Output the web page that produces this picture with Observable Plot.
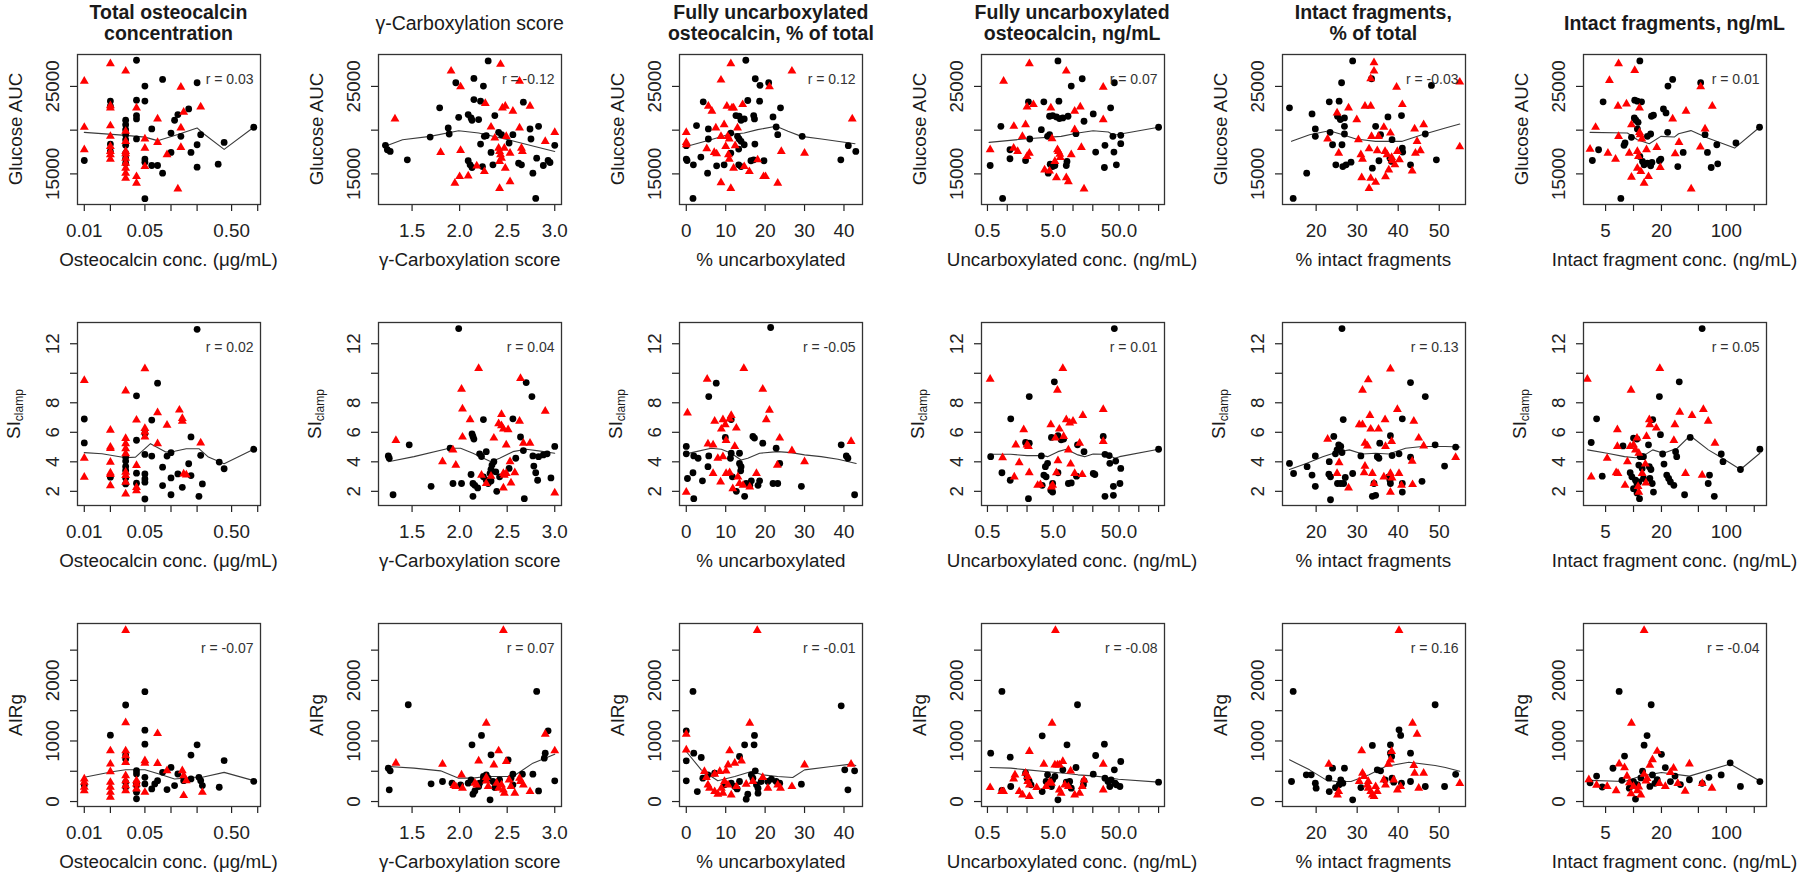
<!DOCTYPE html>
<html><head><meta charset="utf-8">
<script src="https://cdn.jsdelivr.net/npm/d3@7"></script>
<script src="https://cdn.jsdelivr.net/npm/@observablehq/plot@0.6"></script>
<style>
body{margin:0;background:#fff;}
#fig{position:relative;width:1800px;height:878px;overflow:hidden;font-family:"Liberation Sans",Arial,sans-serif;color:#1a1a1a;background:#fff;}
.panel{position:absolute;}
.ctitle{position:absolute;font-size:19.5px;text-align:center;line-height:21px;width:320px;white-space:nowrap;}
.xtitle{position:absolute;font-size:18.8px;text-align:center;line-height:22px;width:320px;white-space:nowrap;}
.ytitle{position:absolute;font-size:18.8px;white-space:nowrap;line-height:22px;transform:translate(-50%,-50%) rotate(-90deg);}
.ytitle sub{font-size:12px;vertical-align:-3px;}
</style></head>
<body><div id="fig"></div>
<script>
// ---------- labels ----------
const colTitles = [["Total osteocalcin","concentration"],["γ-Carboxylation score"],["Fully uncarboxylated","osteocalcin, % of total"],["Fully uncarboxylated","osteocalcin, ng/mL"],["Intact fragments,","% of total"],["Intact fragments, ng/mL"]];
const colTitleBold = [true,false,true,true,true,true];
const xTitles = ["Osteocalcin conc. (μg/mL)","γ-Carboxylation score","% uncarboxylated","Uncarboxylated conc. (ng/mL)","% intact fragments","Intact fragment conc. (ng/mL)"];
const yTitleMain = ["Glucose AUC","SI","AIRg"];
const yTitleSub = ["","clamp",""];
const rValues = [["0.03","-0.12","0.12","0.07","-0.03","0.01"],["0.02","0.04","-0.05","0.01","0.13","0.05"],["-0.07","0.07","-0.01","-0.08","0.16","-0.04"]];
// ---------- axes ----------
const xTypes = ["log","linear","linear","log","linear","log"];
const xDomains = [[0.00835,1.077],[1.147,3.071],[-1.72,44.7],[0.406,246],[11.8,56.4],[2.89,271]];
const xTicks = [[0.01,0.02,0.05,0.1,0.2,0.5,1],[1.5,2,2.5,3],[0,10,20,30,40],[0.5,1,2,5,10,20,50,100,200],[20,30,40,50],[5,10,20,50,100,200]];
const xTickLabels = [["0.01","","0.05","","","0.50",""],["1.5","2.0","2.5","3.0"],["0","10","20","30","40"],["0.5","","","5.0","","","50.0","",""],["20","30","40","50"],["5","","20","","100",""]];
const yDomains = [[11500,28650],[1.04,13.44],[-82,2940]];
const yTicks = [[15000,20000,25000],[2,4,6,8,10,12],[0,500,1000,1500,2000,2500]];
const yTickLabels = [["15000","","25000"],["2","4","6","8","","12"],["0","","1000","","2000",""]];

// ---------- data: [x, y] ----------
// Row 1: Glucose AUC
const p11_red = [[0.01,25600],[0.02,27600],[0.03,26760],[0.01,20330],[0.01,17760],[0.02,22800],[0.02,22550],[0.02,20500],[0.02,19300],[0.02,18150],[0.02,17570],[0.02,17190],[0.02,16690],[0.03,19870],[0.03,18720],[0.03,17570],[0.03,17300],[0.03,16800],[0.03,16230],[0.03,15650],[0.03,15080],[0.03,14500],[0.04,22550],[0.04,14700],[0.04,13930],[0.05,19000],[0.05,17950],[0.05,15840],[0.07,21280],[0.07,18600],[0.09,17190],[0.12,13280],[0.13,24920],[0.14,22050],[0.13,20250],[0.13,18030],[0.22,22660]];
const p11_black = [[0.01,16530],[0.02,23320],[0.02,22740],[0.02,18410],[0.02,17570],[0.03,21130],[0.03,20630],[0.03,20060],[0.03,19480],[0.03,18910],[0.03,18260],[0.03,17380],[0.03,16800],[0.03,16230],[0.04,27990],[0.04,23430],[0.04,21670],[0.04,21280],[0.04,19000],[0.05,25040],[0.05,23320],[0.05,16690],[0.05,16340],[0.05,12170],[0.06,20140],[0.06,15960],[0.07,15960],[0.08,15080],[0.08,25800],[0.1,19670],[0.1,17450],[0.11,21130],[0.12,21780],[0.13,19290],[0.16,22430],[0.17,17450],[0.2,25420],[0.2,15770],[0.2,18330],[0.22,19480],[0.35,16110],[0.41,18600],[0.9,20330]];
const p11_fit = [[0.01,19750],[0.03,19400],[0.05,19200],[0.07,18800],[0.12,19500],[0.2,20250],[0.23,19700],[0.41,17800],[0.9,20330]];

const p12_red = [[1.32,21280],[1.91,26760],[2.01,24960],[1.8,17450],[2.01,17680],[1.95,13930],[2.0,14700],[2.09,14770],[2.18,15920],[2.26,15270],[2.27,23050],[2.33,20360],[2.37,19100],[2.41,17950],[2.42,17570],[2.43,17190],[2.44,16800],[2.42,16420],[2.43,27530],[2.42,13350],[2.45,22550],[2.48,22740],[2.47,17950],[2.48,15650],[2.49,19290],[2.53,17380],[2.53,14120],[2.56,22170],[2.63,25610],[2.63,20250],[2.65,17950],[2.66,17570],[2.74,22740],[2.9,18720],[3.0,19750]];
const p12_black = [[1.22,18260],[1.24,17760],[1.27,17570],[1.45,16610],[1.69,19210],[1.79,22550],[1.88,20250],[1.89,19560],[1.96,25420],[1.99,21470],[2.09,21780],[2.12,21400],[2.13,21130],[2.15,25920],[2.15,23500],[2.2,21210],[2.22,23310],[2.25,25040],[2.3,27910],[2.09,16500],[2.11,16040],[2.13,15730],[2.22,18410],[2.24,15840],[2.26,19290],[2.28,19370],[2.33,17450],[2.35,16040],[2.37,21670],[2.41,19750],[2.44,19480],[2.52,18530],[2.56,19480],[2.62,16230],[2.65,16040],[2.67,23200],[2.74,20130],[2.75,18990],[2.77,15080],[2.8,12200],[2.83,20440],[2.81,16800],[2.88,15960],[2.93,16530],[2.95,16300],[3.0,18260]];
const p12_fit = [[1.21,18140],[1.4,18900],[1.69,19290],[1.99,19940],[2.2,19670],[2.51,18900],[2.79,18140],[3.0,17570]];

const p13_red = [[11.3,27600],[8.8,25730],[26.8,26760],[21.1,24960],[0,19750],[0,18600],[0,18330],[5.6,22740],[6.5,22170],[10.3,22740],[11.6,22550],[12.0,22550],[14.3,22930],[7.5,20250],[9.6,20630],[13.0,20250],[8.8,19290],[10.5,19290],[10.9,19000],[5.2,17880],[7.1,17450],[7.7,17300],[10,18140],[10.7,17190],[10.9,16690],[12.4,18220],[14.7,15840],[16.0,15270],[12,15650],[8.8,14000],[11.3,13350],[18.1,16610],[19.6,14700],[20.1,14700],[23.2,13930],[24.1,17570],[30.0,17380],[42.1,21280]];
const p13_black = [[15.1,27990],[17.5,25880],[18.7,25120],[20.9,25420],[4.3,23240],[15.6,23390],[18.6,23310],[23.9,22550],[12.6,21670],[13.4,21600],[13.9,21130],[14.7,21280],[17.1,21670],[17.3,21280],[22.0,21510],[2.6,20520],[5.6,20140],[5.6,18990],[22.8,20360],[23.2,19480],[29.4,19290],[11.3,19670],[13,19290],[13.4,19000],[13.9,18720],[14.7,18330],[17.4,18410],[0,18220],[0,16690],[0.2,16530],[3.7,16920],[1.8,16040],[7.7,15920],[9.6,16040],[5.4,15080],[11.3,17380],[13.3,17840],[13.3,16040],[13.9,15840],[16.4,16500],[17.1,16610],[19.7,16500],[1.7,12200],[39.2,16610],[41.1,18220],[43,17570]];
const p13_fit = [[0,18140],[6.2,18910],[10.5,19480],[14.7,19670],[18.1,20060],[22.8,20440],[25.8,19870],[29.2,19290],[34.3,18990],[42.8,18450]];

const p14_red = [[2.17,27600],[7.9,26760],[0.88,25610],[28.8,24920],[2.0,22660],[2.5,22930],[4.6,22550],[12.9,22660],[10.6,22170],[1.26,20440],[1.9,20630],[1.7,19290],[4.8,19020],[10.6,20060],[28.8,21210],[0.55,17760],[1.25,17950],[1.44,17570],[2.17,17380],[2.0,17000],[3.7,15460],[4.4,15350],[5.8,17760],[6.0,17570],[6.3,17260],[6.4,16880],[5.3,16420],[5.6,14580],[7.9,14580],[8.5,14120],[9.4,17190],[13.4,18030],[14.7,13280]];
const p14_black = [[5.9,27910],[13.8,25880],[9.4,25040],[42.5,25420],[2.1,23240],[3.6,23240],[6.1,23310],[4.4,21590],[4.9,21670],[5.6,21510],[6.2,21320],[7.0,21400],[8.4,21590],[37.3,22550],[20.3,21860],[14.7,21020],[0.8,20440],[3.3,20060],[2.2,18990],[4.1,19290],[4.4,19480],[11.1,19600],[40.4,19290],[53.2,19410],[53.2,18450],[1.1,17760],[1.1,16730],[1.9,16530],[0.55,15960],[4.5,16110],[4.9,15840],[5.3,15960],[4.2,15080],[8.1,16420],[7.9,15960],[22.1,17490],[30.6,18260],[41.9,17490],[30.0,15730],[45.6,16040],[0.85,12200],[200,20330]];
const p14_fit = [[0.53,18600],[2.0,19020],[6.6,19290],[11.9,19670],[20.2,19940],[34.5,19790],[41.5,19410],[200,20330]];

const p15_red = [[34.1,27720],[34.1,26760],[33.3,25880],[39.6,24920],[27.9,22550],[31.9,22740],[33.3,22740],[41,22930],[25.1,21970],[29.9,21210],[36.5,20330],[38.1,19670],[44,20140],[46.2,20630],[22.8,18990],[25.5,17380],[30.3,18910],[33.5,19290],[30.9,17190],[31.3,16690],[32.9,17870],[34.9,17650],[35.2,19290],[36.8,17570],[37.3,17190],[38.4,16880],[38.5,16500],[39.8,17570],[40.3,16610],[44.6,18720],[44.2,17380],[45.4,17650],[43.4,15350],[31.1,14580],[32.9,13350],[34.5,14040],[33.3,14500],[36.9,14690],[37.7,15460],[39.2,16040],[55,25500],[55,18100]];
const p15_black = [[28.9,27910],[26.2,25420],[33.5,25880],[48.1,25110],[13.5,22550],[19,21860],[23.2,23240],[25.6,23310],[25.2,21590],[25.9,21210],[26.9,21400],[26.9,20440],[19.8,20140],[19.8,19290],[23.4,19750],[26.9,19560],[34.5,20440],[37.5,21510],[40.8,21670],[35.7,19480],[38.5,18910],[24,18330],[26.3,18330],[41,17950],[46.6,19560],[24.8,16040],[26.5,15840],[27.3,16040],[28.5,16340],[33.7,15650],[35.3,16500],[38.0,16800],[38.4,16420],[41.1,17490],[43,16040],[49.3,16610],[17.7,15080],[14.4,12200]];
const p15_fit = [[14,18720],[18.4,19480],[23.2,19940],[26.5,19480],[29.7,18990],[34.5,18720],[41,18720],[45.8,19480],[51.5,20250],[55,20700]];

const p16_red = [[6.9,27600],[10.3,26840],[5.5,25690],[6.8,22740],[8.4,23010],[11.6,22550],[36.8,22170],[70.6,22740],[52.9,24960],[26.4,21280],[3.9,20330],[9.5,20630],[11.6,19750],[11.8,19480],[6.9,19290],[59,20140],[3.4,17830],[5.3,17380],[6.4,16690],[9.0,17380],[11.0,17570],[11.3,17000],[13.8,17760],[17.8,18030],[28.1,17300],[30.9,18600],[52.5,18070],[9.5,14620],[11,15650],[12,15270],[14.5,14700],[13,13930],[19.4,15730],[41.8,13280],[12.3,19000]];
const p16_black = [[11.7,27910],[4.7,23240],[10.3,23430],[11.0,23310],[12.2,23240],[10.2,21400],[10.6,21130],[11.2,20900],[15.6,21590],[16.4,21710],[21.0,22430],[22.4,21970],[23.5,25040],[26.4,25800],[52.9,25420],[4.2,17760],[3.6,16530],[7.9,18260],[8.1,18530],[9.5,19180],[11.0,20140],[14.1,19290],[15.3,19560],[11.7,17000],[12.5,16420],[13,16040],[14.1,16230],[15.3,15920],[15.8,16300],[19,16500],[19.7,16690],[23.3,19750],[30,15840],[34.3,17450],[59,19480],[62.6,17450],[68.7,15730],[79,18330],[80.8,16150],[127,18530],[228,20330],[7.3,12200]];
const p16_fit = [[3.4,19750],[8.6,19670],[11,18900],[14.8,18450],[19.7,19290],[27.5,19210],[30.6,19590],[41.5,19950],[63,19100],[123,17950],[230,20360]];

// Row 2: SIclamp
const p21_red = [[0.01,9.52],[0.01,4.25],[0.01,2.96],[0.02,6.15],[0.02,5.0],[0.02,4.9],[0.02,3.98],[0.02,3.25],[0.02,3.14],[0.02,2.39],[0.03,8.81],[0.03,5.58],[0.03,5.23],[0.03,4.89],[0.03,4.55],[0.03,3.30],[0.03,3.07],[0.03,2.62],[0.03,1.82],[0.04,6.83],[0.04,3.75],[0.04,2.27],[0.04,2.05],[0.05,10.31],[0.05,6.26],[0.05,6.03],[0.05,5.69],[0.07,7.33],[0.07,5.23],[0.09,6.49],[0.125,7.51],[0.135,6.94],[0.135,6.76],[0.14,3.18],[0.15,3.11],[0.22,5.28]];
const p21_black = [[0.01,6.9],[0.01,5.28],[0.02,2.96],[0.03,4.32],[0.03,4.05],[0.03,3.69],[0.03,3.41],[0.03,2.91],[0.03,2.50],[0.04,8.47],[0.04,5.46],[0.04,3.23],[0.04,2.55],[0.05,5.92],[0.05,4.5],[0.05,3.18],[0.05,2.84],[0.05,2.62],[0.05,1.48],[0.06,6.83],[0.06,4.39],[0.07,9.33],[0.08,3.64],[0.08,2.39],[0.09,4.39],[0.1,4.62],[0.1,2.91],[0.1,1.77],[0.12,3.18],[0.135,2.27],[0.16,3.87],[0.17,5.69],[0.17,3.07],[0.2,12.98],[0.21,1.66],[0.22,4.44],[0.23,2.50],[0.36,3.98],[0.41,3.53],[0.9,4.85]];
const p21_fit = [[0.01,4.62],[0.016,4.55],[0.03,4.28],[0.039,4.32],[0.058,5.23],[0.087,4.67],[0.11,4.71],[0.15,4.89],[0.21,4.89],[0.27,4.32],[0.41,3.87],[0.9,4.85]];

const p22_red = [[1.33,5.45],[1.82,4.01],[1.96,3.78],[1.93,4.81],[2.02,8.92],[2.03,7.59],[2.11,6.86],[2.03,5.68],[2.2,10.33],[2.23,3.1],[2.28,2.53],[2.36,5.61],[2.44,7.21],[2.41,6.59],[2.44,6.45],[2.46,6.22],[2.51,6.18],[2.49,5.15],[2.46,3.21],[2.47,3.1],[2.49,3.21],[2.53,4.01],[2.58,3.26],[2.54,2.57],[2.46,2.23],[2.63,6.75],[2.64,9.65],[2.67,5.27],[2.74,5.27],[2.9,7.43],[3.0,1.89],[2.33,3.03]];
const p22_black = [[1.25,4.4],[1.26,4.24],[1.3,1.77],[1.47,5.15],[1.7,2.34],[1.9,4.92],[1.93,2.53],[2.02,2.53],[1.99,13.03],[2.13,5.9],[2.14,5.72],[2.15,5.54],[2.12,3.14],[2.14,2.53],[2.16,2.41],[2.19,2.23],[2.14,1.66],[2.21,4.54],[2.23,4.36],[2.25,6.86],[2.28,4.69],[2.25,2.98],[2.28,2.75],[2.32,3.21],[2.33,3.49],[2.34,3.78],[2.36,4.01],[2.3,2.53],[2.33,2.7],[2.39,2.0],[2.38,3.32],[2.42,2.98],[2.52,3.55],[2.56,6.91],[2.64,5.68],[2.7,9.37],[2.76,8.42],[2.59,4.24],[2.67,4.76],[2.77,4.4],[2.78,3.71],[2.8,3.26],[2.82,2.75],[2.83,4.35],[2.88,4.47],[2.92,4.54],[2.96,2.91],[3.0,5.04],[2.68,1.5]];
const p22_fit = [[1.25,4.01],[1.52,4.35],[1.89,4.92],[2.01,4.92],[2.14,4.58],[2.33,4.01],[2.42,4.24],[2.56,4.69],[2.7,4.85],[2.83,4.74],[3.0,4.58]];

const p23_red = [[0.3,7.32],[0,1.95],[5.3,9.6],[14.6,10.33],[19.4,8.92],[21.1,7.5],[20.3,6.86],[7.2,6.75],[9.3,6.86],[8.9,6.22],[11.4,7.14],[11,6.91],[9.9,6.52],[12.7,6.29],[5.5,5.22],[6.8,5.15],[10.1,5.45],[12.3,5.04],[8.0,4.24],[9.3,4.35],[6.8,3.21],[8.7,2.64],[10.1,3.21],[11,3.26],[11.8,2.18],[13.1,2.98],[13.5,2.53],[14.4,2.41],[16.1,2.3],[17.8,3.21],[23.7,5.61],[23.1,3.78],[26.8,4.76],[30,4.01],[41.8,5.38]];
const p23_black = [[0,5.04],[0,4.54],[0.3,2.87],[1.9,4.4],[3.0,4.24],[1.9,1.5],[4.1,2.71],[1.7,3.26],[5.7,8.42],[7.6,9.33],[5.5,3.67],[5.7,4.4],[11.4,6.86],[9.9,5.65],[11.4,4.58],[11.2,4.24],[11.7,2.98],[12.7,2.0],[13.5,4.58],[13.5,3.89],[13.9,3.67],[13.8,3.39],[14.8,1.66],[15.2,2.53],[16.1,2.41],[16.5,2.71],[16.9,5.72],[17.3,5.61],[19.4,5.26],[18.2,2.41],[18.6,2.71],[21.4,13.1],[22.8,4.92],[23.7,3.89],[22,2.53],[23.2,2.53],[29.2,2.34],[39.3,5.15],[40.6,4.4],[41,4.24],[42.7,1.77]];
const p23_fit = [[0,4.54],[2.5,4.69],[6.3,4.92],[8.9,4.85],[11.4,4.58],[13.9,4.12],[15.6,4.24],[18.6,4.58],[23.2,4.69],[26.6,4.62],[30,4.47],[34.2,4.35],[38.5,4.17],[43.1,3.89]];

const p24_red = [[0.55,9.6],[0.85,4.28],[1.28,2.98],[1.52,3.94],[1.78,6.18],[1.35,5.15],[2.0,5.15],[2.1,5.04],[2.16,3.26],[2.9,2.41],[3.2,2.46],[4.6,6.52],[4.9,2.41],[4.7,2.3],[5.4,5.61],[5.8,8.85],[5.9,4.08],[5.6,3.26],[6.2,6.22],[7.0,10.33],[7.2,5.72],[7.9,6.86],[8.9,6.63],[10,6.75],[8.5,4.81],[9.2,3.85],[10.6,3.21],[12.6,5.27],[13.8,3.14],[14.1,7.14],[28.8,7.55],[28.8,5.38]];
const p24_black = [[0.56,4.35],[0.83,3.26],[1.11,2.75],[1.13,6.91],[1.9,5.31],[2.0,5.15],[2.16,5.26],[2.1,1.5],[2.16,8.42],[3.3,4.4],[3.6,3.1],[3.8,3.67],[3.9,2.98],[3.4,2.41],[4.7,5.65],[4.9,2.53],[5.2,9.42],[4.1,3.9],[4.6,2.07],[4.9,1.95],[5.9,3.26],[5.9,5.77],[6.6,5.49],[7.2,5.54],[8.5,2.53],[9.4,2.57],[11.3,3.03],[11.7,5.15],[14.7,4.69],[20.3,3.21],[21.5,3.14],[28.8,5.72],[30.6,4.51],[35.5,4.42],[36.3,3.9],[44.6,4.05],[53.2,3.55],[30.6,1.66],[41.1,1.73],[41.1,2.34],[51.7,2.53],[42.5,13.03],[200,4.85]];
const p24_fit = [[0.53,4.51],[1.13,4.51],[2.0,4.42],[3.5,4.42],[4.1,4.35],[5.9,4.69],[7.9,4.85],[11.9,4.47],[15,4.35],[20.2,4.53],[32.5,4.51],[43.5,4.24],[51,4.35],[200,4.85]];

const p25_red = [[22.8,5.54],[25.1,3.21],[27.9,2.23],[25.6,3.94],[31.3,8.85],[32.7,9.56],[30.5,6.52],[31.3,6.52],[33.1,7.14],[31.9,5.26],[32.5,5.08],[33.3,6.22],[35.2,6.22],[31.9,3.71],[31.7,3.26],[33.7,3.21],[34.1,2.53],[36.8,6.86],[36.5,2.98],[38.1,10.29],[36.9,5.04],[38.4,5.38],[38.1,3.21],[38.5,2.91],[38.1,1.95],[39.8,7.55],[40.2,3.21],[40.8,2.41],[43.5,2.46],[43.8,6.75],[43.4,4.05],[45,5.61],[46.2,5.08],[54,4.3]];
const p25_black = [[13.5,3.89],[14.5,3.21],[17.8,3.67],[19,3.1],[19.8,4.4],[19.8,2.34],[23.5,1.43],[23.2,4.01],[23.1,3.16],[23.5,2.98],[24.3,5.72],[25.1,4.81],[25.5,5.15],[26,5.04],[24.7,4.54],[26.3,4.63],[26.6,6.86],[25.2,2.53],[26,2.53],[26.7,2.53],[27.1,2.94],[28.9,3.21],[26.3,13.03],[30.9,4.4],[33.7,1.66],[34.5,1.73],[34.1,2.53],[34.9,4.35],[35.3,4.24],[35.5,5.26],[37.7,2.98],[38,2.75],[38.1,2.53],[38.1,5.77],[38.5,4.42],[40.2,4.54],[41,1.95],[41,6.91],[41,2.53],[43,9.37],[43,4.31],[45.8,2.68],[46.6,8.42],[49,5.15],[51.3,3.71],[54,5.0]];
const p25_fit = [[13.5,3.48],[17.6,3.89],[21.6,4.35],[24.8,4.63],[28.1,4.81],[31.3,4.53],[34.5,4.58],[37.7,4.53],[41.8,4.92],[45.8,5.04],[51.5,5.04],[55,5.0]];

const p26_red = [[3.18,9.6],[3.5,2.98],[5.2,4.24],[6.7,6.18],[6.5,3.26],[6.8,3.21],[8.1,2.41],[6.7,5.04],[8.6,4.01],[9.4,8.85],[9.2,5.04],[10,5.15],[10.9,5.61],[10.5,4.81],[11.4,4.58],[11.2,2.34],[11.4,1.95],[12.4,3.21],[13.4,3.85],[13.6,2.57],[13.8,5.72],[14.8,6.86],[15,6.52],[17.6,6.29],[19.2,10.33],[27.2,5.45],[27.9,6.52],[31.5,7.37],[36.3,3.21],[42.7,7.14],[56.6,7.55],[54.9,3.1],[63.8,6.75],[75.4,5.26]];
const p26_black = [[3.5,5.31],[4.0,6.91],[4.6,3.03],[7.7,5.08],[10,5.61],[10.9,5.54],[9.2,3.26],[9.6,2.98],[10.5,2.75],[10.9,2.53],[11.4,2.64],[10,2.18],[10.9,1.89],[11.6,1.5],[11.8,4.35],[12.4,4.35],[12.8,4.35],[11.4,3.78],[12.4,3.55],[12.8,2.87],[14.5,5.15],[14.8,3.67],[15.4,3.48],[16.1,6.86],[15,2.87],[15.9,2.53],[16.4,1.95],[19,8.42],[19.5,5.84],[20.6,4.53],[21.3,3.85],[22.8,3.1],[23.9,2.87],[25,2.64],[27.2,2.41],[28.4,4.69],[29.2,4.35],[31.1,9.42],[35.5,1.77],[40.8,5.65],[54.9,13.03],[65.9,3.1],[63.8,2.53],[74.2,1.66],[88.2,4.53],[92.1,4.01],[142,3.48],[230,4.85]];
const p26_fit = [[3.2,4.81],[5.2,4.58],[8.0,4.35],[10.5,4.28],[12.4,4.35],[16.1,4.81],[21,4.58],[29.6,4.92],[40.8,5.77],[64,4.81],[91,4.24],[142,3.48],[230,4.58]];

// Row 3: AIRg
const p31_red = [[0.03,2827],[0.03,1304],[0.07,1123],[0.02,838],[0.02,619],[0.02,493],[0.02,318],[0.02,236],[0.02,153],[0.02,71],[0.01,373],[0.01,318],[0.01,236],[0.01,181],[0.03,838],[0.03,756],[0.03,647],[0.03,427],[0.03,345],[0.03,263],[0.03,181],[0.04,345],[0.04,290],[0.04,208],[0.05,674],[0.05,635],[0.05,153],[0.07,630],[0.09,510],[0.135,510],[0.14,427],[0.15,345],[0.14,99],[0.23,153]];
const p31_black = [[0.02,1096],[0.03,1594],[0.05,1814],[0.05,1178],[0.05,948],[0.03,767],[0.03,701],[0.01,274],[0.03,318],[0.03,236],[0.04,510],[0.04,455],[0.04,307],[0.04,263],[0.04,153],[0.04,44],[0.05,400],[0.05,290],[0.06,208],[0.065,290],[0.07,345],[0.08,482],[0.09,197],[0.1,564],[0.11,263],[0.12,455],[0.14,345],[0.17,767],[0.17,373],[0.2,937],[0.21,400],[0.22,345],[0.23,263],[0.36,236],[0.41,674],[0.9,334]];
const p31_fit = [[0.01,400],[0.021,493],[0.03,526],[0.05,526],[0.073,455],[0.11,373],[0.19,400],[0.23,400],[0.41,482],[0.9,345]];

const p32_red = [[1.33,634],[1.82,617],[1.94,264],[1.96,248],[2.02,441],[2.03,220],[2.28,1295],[2.2,672],[2.16,303],[2.18,276],[2.28,397],[2.3,248],[2.41,838],[2.46,2827],[2.36,606],[2.49,661],[2.44,276],[2.46,193],[2.47,138],[2.52,358],[2.54,248],[2.58,138],[2.39,303],[2.41,220],[2.63,386],[2.64,331],[2.67,276],[2.74,165],[2.9,1113],[3.0,838],[2.28,342]];
const p32_black = [[1.25,551],[1.27,507],[1.26,193],[1.46,1598],[1.7,292],[1.82,331],[1.92,303],[2.01,276],[2.13,937],[2.09,303],[2.12,358],[2.14,121],[2.16,176],[2.2,248],[2.21,303],[2.23,1091],[2.25,413],[2.25,358],[2.28,441],[2.3,386],[2.33,771],[2.35,331],[2.32,28],[2.37,231],[2.42,358],[2.51,689],[2.54,386],[2.56,276],[2.56,452],[2.66,452],[2.77,452],[2.81,1818],[2.83,176],[2.93,1168],[2.9,799],[2.89,716],[3.0,342]];
const p32_fit = [[1.25,579],[1.52,551],[1.8,507],[1.99,386],[2.14,386],[2.28,413],[2.42,413],[2.56,413],[2.64,496],[2.77,634],[3.0,782]];

const p33_red = [[18,2827],[16.1,1295],[0,1113],[0,854],[11,838],[4.6,496],[5.1,397],[7.2,452],[8.5,496],[10.1,507],[10.6,606],[12.3,634],[14,672],[5.5,276],[5.9,220],[7.2,165],[8.0,121],[8.9,220],[9.3,138],[11.4,110],[9.7,331],[10.6,276],[12.7,248],[15.2,287],[16.9,331],[19.4,397],[20.7,220],[23.2,276],[23.9,220],[26.8,248],[30,606],[41.8,617]];
const p33_black = [[0,1168],[0,672],[0,342],[1.7,1818],[1.9,799],[3.8,727],[2.8,165],[4.2,386],[5.5,441],[7.2,468],[9.7,276],[11.4,303],[12.3,248],[12.9,209],[13.5,744],[13.5,331],[14.8,937],[15.2,39],[15.6,121],[16.5,441],[16.9,386],[17.2,937],[17.3,1091],[17.5,507],[17.8,276],[18.2,220],[19,331],[18.2,138],[20.7,331],[21.6,369],[22.8,331],[23.7,303],[29.2,287],[39.3,1581],[40.2,523],[41,193],[42.7,507]];
const p33_fit = [[0,826],[3.8,523],[8.0,342],[12.3,413],[16.5,496],[19.4,441],[23.2,413],[27,397],[30,523],[36.8,579],[41.8,617],[43,595]];

const p34_red = [[5.4,2827],[4.8,1295],[2.17,827],[0.55,231],[0.82,165],[0.88,165],[1.25,375],[1.31,441],[1.52,165],[1.71,110],[2.17,83],[1.9,468],[2.05,413],[2.05,331],[2.17,276],[2.8,231],[3.6,617],[3.9,248],[4.4,320],[4.7,303],[5.3,606],[5.8,606],[6.2,606],[7.0,661],[6.2,193],[6.6,138],[7.5,276],[8.5,248],[9.2,507],[10.6,110],[12.6,138],[13.8,248],[14.7,358],[28.8,617],[28.8,193]];
const p34_black = [[0.56,799],[0.83,1818],[0.83,182],[1.11,733],[1.13,248],[1.9,468],[2.0,386],[2.16,331],[2.3,276],[3.4,1085],[3.4,165],[4.1,441],[3.9,331],[4.4,287],[4.7,248],[4.9,358],[5.3,413],[5.9,28],[7.0,523],[7.9,320],[8.5,276],[8.9,331],[8.1,937],[9.4,220],[11.1,562],[11.7,1598],[14.4,276],[14.7,342],[20.3,452],[22.1,760],[30,948],[30.6,386],[34,331],[36.3,248],[38,358],[42.5,523],[43.6,303],[45.6,276],[53.2,661],[51.7,248],[200,320]];
const p34_fit = [[0.55,562],[1.13,551],[2.05,523],[3.7,496],[7.5,468],[11.9,441],[20.2,424],[30.6,402],[49,369],[200,320]];

const p35_red = [[40.2,2827],[43.5,1295],[44.6,1113],[31.1,838],[23.1,617],[25.5,165],[25.2,110],[31.3,468],[31.7,413],[30.5,331],[32.5,276],[32.7,220],[33.3,165],[33.7,110],[34.1,83],[34.5,248],[34.9,165],[32.7,331],[36.5,358],[36.9,276],[37.6,617],[38.1,689],[38.4,827],[38.9,358],[39.8,193],[40.6,248],[43.8,595],[44,468],[45,220],[46.2,468],[55,300]];
const p35_black = [[14,331],[14.4,1818],[17.6,441],[18.8,441],[19.8,303],[20,220],[23.1,386],[24,551],[23.2,165],[24.7,231],[25.6,276],[26,358],[26.5,303],[26.9,551],[28.9,28],[30.9,231],[33.7,926],[34.9,523],[35.7,507],[36.8,358],[38.1,937],[38.1,799],[38.4,744],[38.5,386],[38.9,320],[40.2,1185],[40.6,1091],[40.8,303],[43,799],[43,331],[46.6,248],[49,1598],[51.3,248],[54,450]];
const p35_fit = [[13.5,689],[18.4,523],[22.4,358],[24.8,331],[28.5,331],[32.9,441],[36.9,579],[42.6,650],[49,595],[51.5,562],[55,500]];

const p36_red = [[13,2827],[9.5,1295],[4,270],[3.3,360],[5.2,250],[6.5,180],[7,620],[8,560],[8.5,420],[9,310],[10,250],[11,180],[12,110],[13,450],[14,380],[15,600],[16,690],[18,830],[19,300],[22,250],[25,480],[30,300],[40,620],[55,300],[70,220],[9.4,130],[11.4,240],[13.6,340],[27,550],[36,170]];
const p36_black = [[7,1818],[15.5,1598],[3.4,310],[4,420],[4.6,240],[6,550],[7.5,350],[8,750],[9,220],[10,330],[10.5,40],[11,280],[12,390],[12.5,500],[13,930],[14,1090],[15,250],[16,440],[17,300],[18,360],[20,780],[22,560],[25,330],[28,420],[32,280],[40,360],[55,300],[65,400],[88,440],[110,640],[142,250],[230,330]];
const p36_fit = [[3.4,350],[8,330],[12,420],[20,480],[40,420],[110,620],[230,340]];

const panelData = [
  [[p11_red,p11_black,p11_fit],[p12_red,p12_black,p12_fit],[p13_red,p13_black,p13_fit],[p14_red,p14_black,p14_fit],[p15_red,p15_black,p15_fit],[p16_red,p16_black,p16_fit]],
  [[p21_red,p21_black,p21_fit],[p22_red,p22_black,p22_fit],[p23_red,p23_black,p23_fit],[p24_red,p24_black,p24_fit],[p25_red,p25_black,p25_fit],[p26_red,p26_black,p26_fit]],
  [[p31_red,p31_black,p31_fit],[p32_red,p32_black,p32_fit],[p33_red,p33_black,p33_fit],[p34_red,p34_black,p34_fit],[p35_red,p35_black,p35_fit],[p36_red,p36_black,p36_fit]]
];

// ---------- layout ----------
const boxLeft = i => 77 + 301.2 * i;
const boxTops = [54, 322, 623];
const boxHeights = [150, 183, 183];
const boxW = 183;
const mL = 55, mR = 12, mT = 8, mB = 70;

const fig = document.getElementById("fig");
function fmtFrom(ticks, labels) {
  return d => {
    const k = ticks.findIndex(t => Math.abs(t - d) <= 1e-9 * Math.max(1, Math.abs(t)));
    return k >= 0 ? labels[k] : "";
  };
}
const ink = "#222";

for (let r = 0; r < 3; r++) {
  for (let c = 0; c < 6; c++) {
    const [red, black, fit] = panelData[r][c];
    const h = boxHeights[r];
    const chart = Plot.plot({
      width: mL + boxW + mR, height: mT + h + mB,
      marginLeft: mL, marginRight: mR, marginTop: mT, marginBottom: mB,
      style: {fontFamily: '"Liberation Sans", Arial, sans-serif', fontSize: "18.8px", color: ink, background: "transparent", overflow: "visible"},
      x: {type: xTypes[c], domain: xDomains[c]},
      y: {type: "linear", domain: yDomains[r]},
      marks: [
        Plot.axisX({ticks: xTicks[c], text: fmtFrom(xTicks[c], xTickLabels[c]), tickSize: 7, tickPadding: 12, label: null, fontSize: 18.8, strokeWidth: 1.2}),
        Plot.axisY({ticks: yTicks[r], text: fmtFrom(yTicks[r], yTickLabels[r]), tickSize: 7, tickPadding: 12, tickRotate: -90, label: null, fontSize: 18.8, strokeWidth: 1.2}),
        Plot.line(fit, {x: d => d[0], y: d => d[1], stroke: "#3a3a3a", strokeWidth: 1.1}),
        Plot.dot(black, {x: d => d[0], y: d => d[1], r: 3.4, fill: "black", stroke: "none"}),
        Plot.dot(red, {x: d => d[0], y: d => d[1], symbol: "triangle", r: 3.3, fill: "#ff0000", stroke: "none"}),
        Plot.frame({stroke: "#333", strokeWidth: 1.3}),
        Plot.text([rValues[r][c]], {text: d => `r = ${d}`, frameAnchor: "top-right", dx: -7, dy: 20, fontSize: 14, fill: "#333"})
      ]
    });
    chart.classList.add("panel");
    chart.style.left = (boxLeft(c) - mL) + "px";
    chart.style.top = (boxTops[r] - mT) + "px";
    fig.appendChild(chart);

    // x-axis title
    const xt = document.createElement("div");
    xt.className = "xtitle";
    xt.textContent = xTitles[c];
    xt.style.left = (boxLeft(c) + boxW / 2 - 160) + "px";
    xt.style.top = (boxTops[r] + h + 56 - 11) + "px";
    fig.appendChild(xt);

    // y-axis title
    const yt = document.createElement("div");
    yt.className = "ytitle";
    yt.textContent = yTitleMain[r];
    if (yTitleSub[r]) { const s = document.createElement("sub"); s.textContent = yTitleSub[r]; yt.appendChild(s); }
    yt.style.left = (boxLeft(c) - 61) + "px";
    yt.style.top = (boxTops[r] + h / 2) + "px";
    fig.appendChild(yt);
  }
}
// column titles
for (let c = 0; c < 6; c++) {
  const t = document.createElement("div");
  t.className = "ctitle";
  t.style.fontWeight = colTitleBold[c] ? "bold" : "normal";
  t.style.left = (boxLeft(c) + boxW / 2 - 160) + "px";
  const lines = colTitles[c];
  t.style.top = (lines.length === 2 ? 1.5 : 12.5) + "px";
  lines.forEach((ln, i) => { if (i) t.appendChild(document.createElement("br")); t.appendChild(document.createTextNode(ln)); });
  fig.appendChild(t);
}
</script></body></html>
